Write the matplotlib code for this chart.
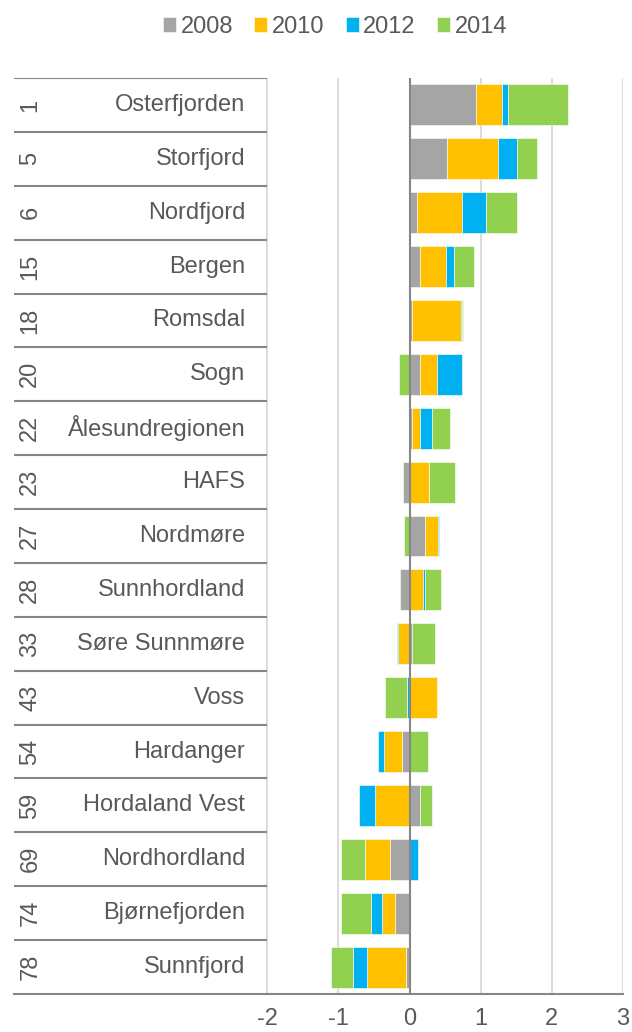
import numpy as np
import matplotlib
matplotlib.use("Agg")
import matplotlib.pyplot as plt

plt.rcParams['font.family'] = ['Liberation Sans', 'DejaVu Sans']

# Regions ranked, with change per period (stacked, negatives to the left)
ranks = ['1', '5', '6', '15', '18', '20', '22', '23', '27', '28', '33', '43', '54', '59', '69', '74', '78']
regions = ['Osterfjorden', 'Storfjord', 'Nordfjord', 'Bergen', 'Romsdal', 'Sogn', 'Ålesundregionen',
           'HAFS', 'Nordmøre', 'Sunnhordland', 'Søre Sunnmøre', 'Voss', 'Hardanger',
           'Hordaland Vest', 'Nordhordland', 'Bjørnefjorden', 'Sunnfjord']
v2008 = [0.94, 0.52, 0.11, 0.15, 0.04, 0.14, 0.04, -0.09, 0.22, -0.14, 0.04, 0.01, -0.10, 0.14, -0.28, -0.20, -0.05]
v2010 = [0.36, 0.72, 0.63, 0.36, 0.68, 0.24, 0.11, 0.27, 0.18, 0.19, -0.16, 0.37, -0.26, -0.48, -0.34, -0.19, -0.55]
v2012 = [0.08, 0.27, 0.34, 0.12, 0.01, 0.35, 0.17, 0.005, 0.015, 0.02, -0.02, -0.03, -0.08, -0.23, 0.12, -0.15, -0.20]
v2014 = [0.84, 0.28, 0.43, 0.28, 0.02, -0.15, 0.25, 0.37, -0.075, 0.23, 0.32, -0.32, 0.26, 0.17, -0.34, -0.42, -0.30]

years = ['2008', '2010', '2012', '2014']
colors = ['#A5A5A5', '#FFC000', '#00B0F0', '#92D050']
series = [v2008, v2010, v2012, v2014]

text_col = '#595959'
fs = 17

fig = plt.figure(figsize=(6.32, 10.32), dpi=100)
ax = fig.add_axes([14 / 632, 1 - 994 / 1032, 609 / 632, (994 - 78) / 1032])

n = len(regions)
y = np.arange(n)
pos_base = np.zeros(n)
neg_base = np.zeros(n)
for vals, col, yr in zip(series, colors, years):
    vals = np.array(vals)
    left = np.where(vals >= 0, pos_base, neg_base)
    ax.barh(y, vals, left=left, height=0.76, color=col, label=yr,
            edgecolor='white', linewidth=0.4, zorder=3)
    pos_base += np.where(vals >= 0, vals, 0)
    neg_base += np.where(vals < 0, vals, 0)

ax.set_xlim(-5.56, 3.0)
ax.set_ylim(n - 0.5, -0.5)

# value axis: gridlines from -2 to 3
ax.set_xticks(range(-2, 4))
ax.set_xticklabels([str(t) for t in range(-2, 4)], fontsize=fs, color=text_col)
ax.tick_params(axis='x', length=0, pad=10)
ax.set_yticks([])
ax.grid(axis='x', color='#D9D9D9', linewidth=1.3, zorder=0)
ax.axvline(0, color='#868686', linewidth=1.5, zorder=4)

for side in ['top', 'right', 'left']:
    ax.spines[side].set_visible(False)
ax.spines['bottom'].set_color('#868686')
ax.spines['bottom'].set_linewidth(1.5)

# category table on the left
ax.hlines(np.arange(n) - 0.5, -5.56, -2, color='#868686', linewidth=1.5, zorder=2)
for i in range(n):
    ax.text(-5.33, i, ranks[i], rotation=90, ha='center', va='center',
            fontsize=fs, color=text_col)
    ax.text(-2.31, i, regions[i], ha='right', va='center',
            fontsize=fs, color=text_col)

handles, labels = ax.get_legend_handles_labels()
fig.legend(handles, labels, loc='center', bbox_to_anchor=(0.53, 0.974), ncol=4,
           frameon=False, fontsize=fs, labelcolor=text_col, handlelength=0.55,
           handleheight=0.55, handletextpad=0.2, columnspacing=0.9)

fig.savefig('out.png', dpi=100)
